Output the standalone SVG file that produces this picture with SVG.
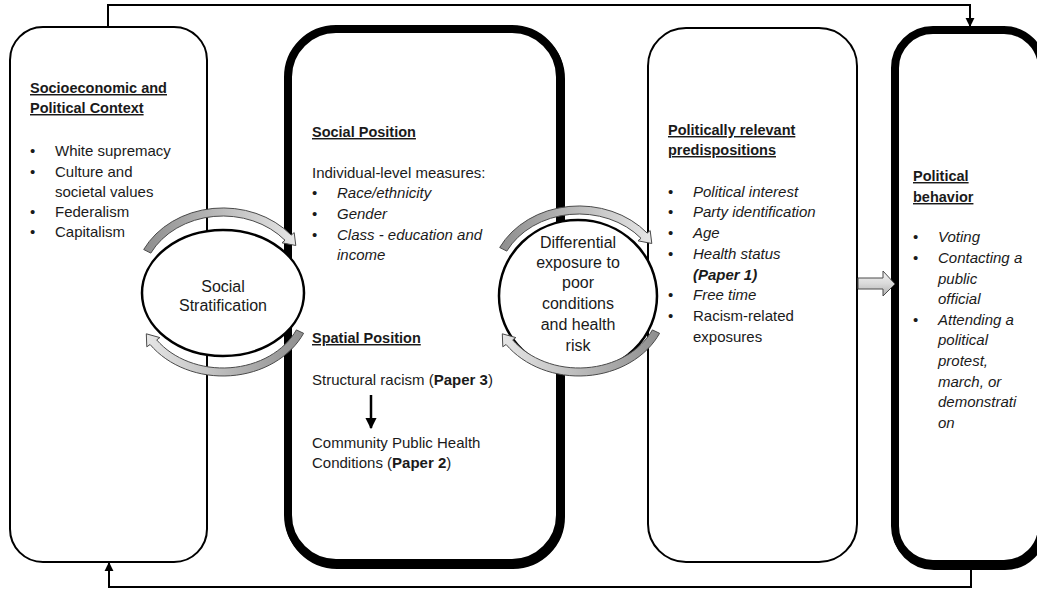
<svg xmlns="http://www.w3.org/2000/svg" width="1037" height="590" viewBox="0 0 1037 590">
<style>
  text { font-family: "Liberation Sans", Arial, sans-serif; font-size: 15px; fill: #1a1a1a; }
  .t { font-weight: bold; font-size: 14.5px; text-decoration: underline; }
  .i { font-style: italic; }
  .b { font-weight: bold; }
  .c { text-anchor: middle; font-size: 16px; }
  .box { fill: #fff; stroke: #000; }
  .shadow { fill: none; stroke: #000; stroke-width: 8; }
  .thin { stroke-width: 2; }
  .thick { stroke-width: 8; }
  .conn { fill: none; stroke: #000; stroke-width: 2; }
  .circ { fill: #fff; stroke: #000; stroke-width: 2.5; }
  .carrow { stroke: #4a4a4a; stroke-width: 1; }
</style>
<defs>
  <marker id="ah" viewBox="0 0 10 10" refX="9" refY="5" markerWidth="4.5" markerHeight="5" markerUnits="strokeWidth" orient="auto">
    <path d="M0,0 L10,5 L0,10 z" fill="#000"/>
  </marker>
  <linearGradient id="gL" x1="0" y1="0" x2="1" y2="0">
    <stop offset="0" stop-color="#8e8e8e"/>
    <stop offset="1" stop-color="#e6e6e6"/>
  </linearGradient>
  <linearGradient id="gR" x1="1" y1="0" x2="0" y2="0">
    <stop offset="0" stop-color="#8e8e8e"/>
    <stop offset="1" stop-color="#e6e6e6"/>
  </linearGradient>
  <linearGradient id="gV" x1="0" y1="0" x2="0" y2="1">
    <stop offset="0" stop-color="#f4f4f4"/>
    <stop offset="0.5" stop-color="#dadada"/>
    <stop offset="1" stop-color="#b0b0b0"/>
  </linearGradient>
  <path id="arcTop" d="M143.7,249.5 A89,76 0 0 1 291.2,235.1 L294.2,232.6 L295.8,245.5 L282.0,242.8 L285.0,240.3 A81,68 0 0 0 150.8,253.1 Z"/>
  <path id="arcBot" d="M303.6,333.3 A89,74 0 0 1 150.1,344.5 L146.8,346.8 L146.3,333.8 L159.9,337.6 L156.7,339.9 A81,66 0 0 0 296.4,329.9 Z"/>
</defs>

<g id="connectors">
  <path class="conn" d="M108,27 V5 H970 V26" marker-end="url(#ah)"/>
  <path class="conn" d="M971,568 V587 H109 V563" marker-end="url(#ah)"/>
</g>

<g id="socioeconomic">
  <rect class="box thin" x="10" y="27" width="197" height="535" rx="33"/>
  <text class="t" x="30" y="93">Socioeconomic and</text>
  <text class="t" x="30" y="113">Political Context</text>
  <text x="30" y="156">•</text><text x="55" y="156">White supremacy</text>
  <text x="30" y="177">•</text><text x="55" y="177">Culture and</text>
  <text x="55" y="197">societal values</text>
  <text x="30" y="217">•</text><text x="55" y="217">Federalism</text>
  <text x="30" y="237">•</text><text x="55" y="237">Capitalism</text>
</g>

<g id="social-position">
  <rect class="shadow" x="289" y="31" width="272" height="534" rx="48"/>
  <rect class="box thick" x="288" y="29" width="272" height="534" rx="48"/>
  <text class="t" x="312" y="137">Social Position</text>
  <text x="312" y="178">Individual-level measures:</text>
  <text x="312" y="198">•</text><text class="i" x="337" y="198">Race/ethnicity</text>
  <text x="312" y="219">•</text><text class="i" x="337" y="219">Gender</text>
  <text x="312" y="240">•</text><text class="i" x="337" y="240">Class - education and</text>
  <text class="i" x="337" y="260">income</text>
  <text class="t" x="312" y="343">Spatial Position</text>
  <text x="312" y="385">Structural racism (<tspan class="b">Paper 3</tspan>)</text>
  <path d="M371,395 V428" stroke="#000" stroke-width="2.5" fill="none" marker-end="url(#ah)"/>
  <text x="312" y="448">Community Public Health</text>
  <text x="312" y="468">Conditions (<tspan class="b">Paper 2</tspan>)</text>
</g>

<g id="predispositions">
  <rect class="box thin" x="648" y="28" width="209" height="534" rx="38"/>
  <text class="t" x="668" y="135">Politically relevant</text>
  <text class="t" x="668" y="155">predispositions</text>
  <text x="668" y="197">•</text><text class="i" x="693" y="197">Political interest</text>
  <text x="668" y="217">•</text><text class="i" x="693" y="217">Party identification</text>
  <text x="668" y="238">•</text><text class="i" x="693" y="238">Age</text>
  <text x="668" y="259">•</text><text class="i" x="693" y="259">Health status</text>
  <text class="i b" x="693" y="280">(Paper 1)</text>
  <text x="668" y="300">•</text><text class="i" x="693" y="300">Free time</text>
  <text x="668" y="321">•</text><text x="693" y="321">Racism-related</text>
  <text x="693" y="342">exposures</text>
</g>

<g id="political-behavior">
  <rect class="shadow" x="896" y="32" width="147" height="534" rx="38"/>
  <rect class="box thick" x="895" y="30" width="147" height="534" rx="38"/>
  <text class="t" x="913" y="181">Political</text>
  <text class="t" x="913" y="202">behavior</text>
  <text x="913" y="242">•</text><text class="i" x="938" y="242">Voting</text>
  <text x="913" y="263">•</text><text class="i" x="938" y="263">Contacting a</text>
  <text class="i" x="938" y="284">public</text>
  <text class="i" x="938" y="304">official</text>
  <text x="913" y="325">•</text><text class="i" x="938" y="325">Attending a</text>
  <text class="i" x="938" y="345">political</text>
  <text class="i" x="938" y="366">protest,</text>
  <text class="i" x="938" y="387">march, or</text>
  <text class="i" x="938" y="407">demonstrati</text>
  <text class="i" x="938" y="428">on</text>
</g>

<g id="social-stratification">
  <ellipse class="circ" cx="223" cy="293" rx="81" ry="63"/>
  <text class="c" x="223" y="292">Social</text>
  <text class="c" x="223" y="311">Stratification</text>
</g>

<g id="differential-exposure">
  <ellipse class="circ" cx="578" cy="296" rx="79" ry="76"/>
  <text class="c" x="578" y="248">Differential</text>
  <text class="c" x="578" y="268">exposure to</text>
  <text class="c" x="578" y="288">poor</text>
  <text class="c" x="578" y="309">conditions</text>
  <text class="c" x="578" y="330">and health</text>
  <text class="c" x="578" y="351">risk</text>
</g>

<g id="cycle-arrows">
  <use href="#arcTop" class="carrow" fill="url(#gL)"/>
  <use href="#arcBot" class="carrow" fill="url(#gR)"/>
  <use href="#arcTop" class="carrow" fill="url(#gL)" transform="translate(356,-2)"/>
  <use href="#arcBot" class="carrow" fill="url(#gR)" transform="translate(356,0)"/>
  <path class="carrow" fill="url(#gV)" d="M858,278 H883 V271 L895,284 L883,296 V289 H858 Z"/>
</g>
</svg>
